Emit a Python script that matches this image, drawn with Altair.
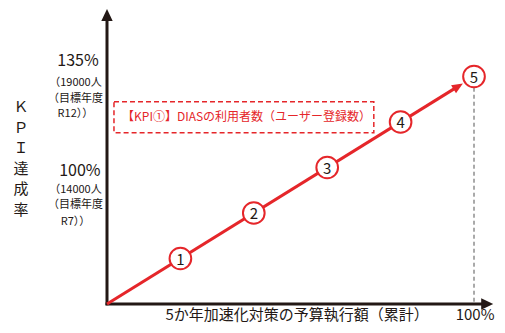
import altair as alt
import pandas as pd

# ---------------- data ----------------
step_labels = ["1", "2", "3", "4", "5"]
budget_pct = [20, 40, 60, 80, 100]      # cumulative budget execution (%)
kpi_progress = [20, 40, 60, 80, 100]    # schematic KPI progress

y_tick_main = ["135%", "100%"]
y_tick_main_pos = [107.0, 58.6]
y_tick_sub = ["（19000人", "（目標年度", "R12））", "（14000人", "（目標年度", "R7））"]
y_tick_sub_pos = [97.3, 90.3, 83.5, 50.3, 43.3, 36.2]

y_title_chars = ["Ｋ", "Ｐ", "Ｉ", "達", "成", "率"]
y_title_pos = [86.4, 77.4, 68.5, 59.5, 50.4, 41.5]

x_title = "5か年加速化対策の予算執行額（累計）"
x_end_label = "100%"
box_label = "【KPI①】DIASの利用者数（ユーザー登録数）"

# ---------------- layout ----------------
W, H = 489, 317
X0_PX, X_PER = 99, 3.67
Y0_PX, Y_PER = 296, 2.275
x_dom = [-X0_PX / X_PER, (W - X0_PX) / X_PER]
y_dom = [(Y0_PX - H) / Y_PER, Y0_PX / Y_PER]

FONT = "Noto Sans CJK JP"
RED = "#e5262a"
INK = "#231815"


def X(f):
    return alt.X(f, type="quantitative", scale=alt.Scale(domain=x_dom, nice=False, zero=False), axis=None)


def Y(f):
    return alt.Y(f, type="quantitative", scale=alt.Scale(domain=y_dom, nice=False, zero=False), axis=None)


# axes lines
axes_df = pd.DataFrame({
    "x0": [0, -0.4], "y0": [-0.6, 0],
    "x1": [0, 102.5], "y1": [124.5, 0],
})
axes = alt.Chart(axes_df).mark_rule(color=INK, strokeWidth=3).encode(
    x=X("x0"), y=Y("y0"), x2=alt.X2("x1"), y2=alt.Y2("y1"))

# arrow heads of axes
up_df = pd.DataFrame({"x": [0], "y": [127.0]})
up_head = alt.Chart(up_df).mark_point(
    shape="M0,-1L0.95,1L-0.95,1Z", filled=True, color=INK, opacity=1, size=144
).encode(x=X("x"), y=Y("y"))
right_df = pd.DataFrame({"x": [103.6], "y": [0]})
right_head = alt.Chart(right_df).mark_point(
    shape="M1,0L-1,-0.95L-1,0.95Z", filled=True, color=INK, opacity=1, size=144
).encode(x=X("x"), y=Y("y"))

# dashed vertical guide at 100%
guide_df = pd.DataFrame({"x": [budget_pct[-1]], "y0": [1.0], "y1": [kpi_progress[-1]]})
guide = alt.Chart(guide_df).mark_rule(color="#555555", strokeWidth=1, strokeDash=[4, 3]).encode(
    x=X("x"), y=Y("y0"), y2=alt.Y2("y1"))

# red trend line with arrow
line_df = pd.DataFrame({"x0": [0], "y0": [0], "x1": [95.0], "y1": [95.0]})
trend = alt.Chart(line_df).mark_rule(color=RED, strokeWidth=3).encode(
    x=X("x0"), y=Y("y0"), x2=alt.X2("x1"), y2=alt.Y2("y1"))
arrow_df = pd.DataFrame({"x": [95.7], "y": [95.7]})
trend_head = alt.Chart(arrow_df).mark_point(
    shape="M0,-1L0.85,1L-0.85,1Z", filled=True, color=RED, opacity=1, size=121, angle=58.2
).encode(x=X("x"), y=Y("y"))

# step circles
pts_df = pd.DataFrame({"x": budget_pct, "y": kpi_progress, "label": step_labels})
circles = alt.Chart(pts_df).mark_point(
    shape="circle", filled=True, fill="white", stroke=RED, strokeWidth=2, opacity=1, size=470
).encode(x=X("x"), y=Y("y"))
circle_text = alt.Chart(pts_df).mark_text(
    font=FONT, fontSize=15, color=INK, align="center", baseline="middle", dy=1
).encode(x=X("x"), y=Y("y"), text="label:N")

# dashed box with label
box_df = pd.DataFrame({"x0": [1.9], "x1": [72.7], "y0": [75.3], "y1": [88.9]})
box = alt.Chart(box_df).mark_rect(
    fillOpacity=0, stroke=RED, strokeWidth=1.5, strokeDash=[5, 3]
).encode(x=X("x0"), x2=alt.X2("x1"), y=Y("y0"), y2=alt.Y2("y1"))
box_text_df = pd.DataFrame({"x": [38.0], "y": [82.0], "t": [box_label]})
box_text = alt.Chart(box_text_df).mark_text(
    font=FONT, fontSize=12, color=RED, align="center", baseline="middle"
).encode(x=X("x"), y=Y("y"), text="t:N")

# y tick labels
ymain_df = pd.DataFrame({"x": [-7.9, -7.4], "y": y_tick_main_pos, "t": y_tick_main})
ymain = alt.Chart(ymain_df).mark_text(
    font=FONT, fontSize=16, color=INK, align="center", baseline="middle"
).encode(x=X("x"), y=Y("y"), text="t:N")
ysub_df = pd.DataFrame({"x": [-8.6] * 6, "y": y_tick_sub_pos, "t": y_tick_sub})
ysub = alt.Chart(ysub_df).mark_text(
    font=FONT, fontSize=11, color=INK, align="center", baseline="middle"
).encode(x=X("x"), y=Y("y"), text="t:N")

# y title (vertical, one character per row)
ytitle_df = pd.DataFrame({"x": [-23.4] * len(y_title_chars), "y": y_title_pos, "t": y_title_chars})
ytitle = alt.Chart(ytitle_df).mark_text(
    font=FONT, fontSize=15, color=INK, align="center", baseline="middle"
).encode(x=X("x"), y=Y("y"), text="t:N")

# x title
xtitle_df = pd.DataFrame({"x": [51.8], "y": [-4.9], "t": [x_title]})
xtitle = alt.Chart(xtitle_df).mark_text(
    font=FONT, fontSize=15, color=INK, align="center", baseline="middle"
).encode(x=X("x"), y=Y("y"), text="t:N")
xend_df = pd.DataFrame({"x": [100.3], "y": [-4.9], "t": [x_end_label]})
xend = alt.Chart(xend_df).mark_text(
    font=FONT, fontSize=15, color=INK, align="center", baseline="middle"
).encode(x=X("x"), y=Y("y"), text="t:N")

chart = alt.layer(
    axes, up_head, right_head, guide, trend, trend_head, circles, circle_text,
    box, box_text, ymain, ysub, ytitle, xtitle, xend
).properties(
    width=W, height=H, padding=0, autosize=alt.AutoSizeParams(type="none"), background="white"
).configure_view(strokeWidth=0)

chart.save("out.html", embed_options={"renderer": "svg", "actions": False})
